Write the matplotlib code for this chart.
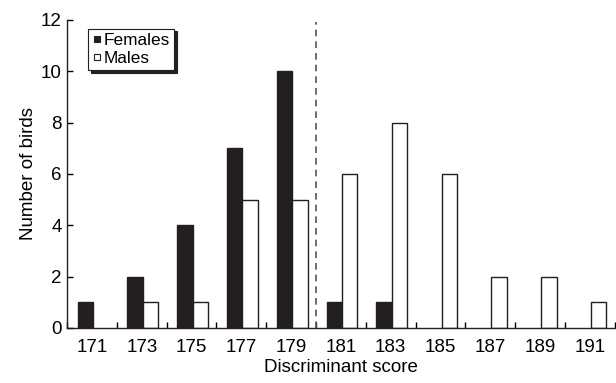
import numpy as np
import matplotlib.pyplot as plt
from matplotlib.lines import Line2D

# Data
scores = ['171', '173', '175', '177', '179', '181', '183', '185', '187', '189', '191']
females = [1, 2, 4, 7, 10, 1, 1, 0, 0, 0, 0]
males = [0, 1, 1, 5, 5, 6, 8, 6, 2, 2, 1]
cutoff_index = 4.5  # dashed line between 179 and 181

DARK = '#231f20'
plt.rcParams['font.family'] = ['Liberation Sans', 'DejaVu Sans']

fig = plt.figure(figsize=(6.16, 3.83), dpi=100)
ax = fig.add_axes([0.109, 0.144, 0.889, 0.804])

x = np.arange(len(scores))
w = 0.31
fem = np.array(females)
mal = np.array(males)
# zero-height bars are not drawn in the reference
ax.bar(x[fem > 0] - w / 2 + 0.02, fem[fem > 0], width=w, color=DARK,
       edgecolor=DARK, linewidth=1)
ax.bar(x[mal > 0] + w / 2 + 0.02, mal[mal > 0], width=w, color='white',
       edgecolor=DARK, linewidth=1)

ax.plot([cutoff_index, cutoff_index], [0, 11.9], color='#555555', linestyle=(0, (4, 3)),
        linewidth=1.2)

ax.set_xlim(-0.5, len(scores) - 0.5)
ax.set_ylim(0, 12)
ax.set_xticks(x)
ax.set_xticklabels(scores)
ax.set_xticks(np.arange(len(scores) + 1) - 0.5, minor=True)
ax.tick_params(axis='x', which='major', length=0, labelsize=13.5, pad=8)
ax.tick_params(axis='x', which='minor', direction='in', length=4, width=1)
ax.set_yticks(range(0, 13, 2))
ax.tick_params(axis='y', direction='in', length=4, width=1, labelsize=13.5, pad=4)

for side in ['top', 'right']:
    ax.spines[side].set_visible(False)
for side in ['left', 'bottom']:
    ax.spines[side].set_color(DARK)
    ax.spines[side].set_linewidth(1)

ax.set_xlabel('Discriminant score', fontsize=13.5, labelpad=2)
ax.set_ylabel('Number of birds', fontsize=13.5, labelpad=3)

handles = [
    Line2D([], [], marker='s', linestyle='none', markersize=5,
           markerfacecolor=DARK, markeredgecolor=DARK, markeredgewidth=0.8),
    Line2D([], [], marker='s', linestyle='none', markersize=5,
           markerfacecolor='white', markeredgecolor=DARK, markeredgewidth=0.8),
]
leg = ax.legend(handles, ['Females', 'Males'], loc='upper left',
                bbox_to_anchor=(0.038, 0.972), borderaxespad=0,
                fontsize=12.4, handlelength=0.5, handletextpad=0.15,
                borderpad=0.25, labelspacing=0.15, fancybox=False,
                edgecolor=DARK, shadow={'color': DARK, 'alpha': 1})
leg.get_frame().set_linewidth(0.8)

fig.savefig('out.png', dpi=100)
